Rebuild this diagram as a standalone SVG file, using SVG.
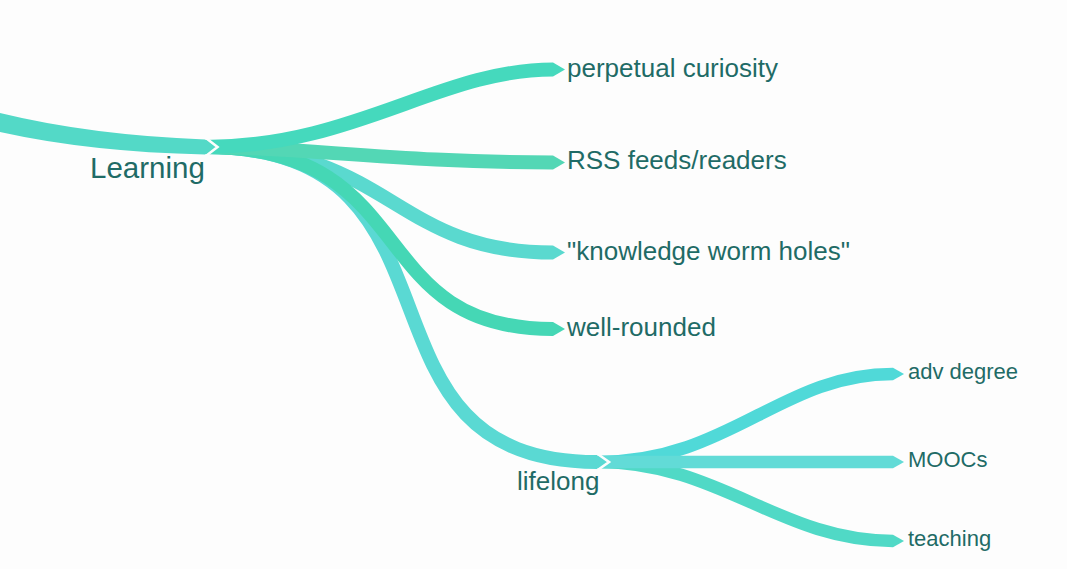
<svg xmlns="http://www.w3.org/2000/svg" width="1067" height="569" viewBox="0 0 1067 569">
<style>
.b{fill:none;stroke-linecap:butt}
.l2{stroke-width:14}
.l3{stroke-width:12.5}
.cut{fill:none;stroke:#fdfdfd;stroke-width:2.6;stroke-linejoin:miter}
text{font-family:"Liberation Sans",Arial,Helvetica,sans-serif;fill:#1f6b66}
.t1{font-size:29.5px}
.t2{font-size:26px}
.t3{font-size:22px}
</style>
<rect width="1067" height="569" fill="#fdfdfd"/>
<g id="connectors">
  <!-- lifelong children -->
  <g id="c-adv">
    <path class="b l3" stroke="#50d9d8" d="M598,462 C730,462 780,374 893,374"/>
    <polygon fill="#50d9d8" points="893,367.8 904,374 893,380.2"/>
  </g>
  <g id="c-teaching">
    <path class="b l3" stroke="#50d9c6" d="M598,462 C720,462 780,541 893,541"/>
    <polygon fill="#50d9c6" points="893,534.8 904,541 893,547.2"/>
  </g>
  <g id="c-moocs">
    <path class="b l3" stroke="#62dbd7" d="M598,462 L893,462"/>
    <polygon fill="#62dbd7" points="893,455.8 904,462 893,468.2"/>
  </g>
  <!-- Learning children -->
  <g id="c-lifelong">
    <path class="b l2" stroke="#5ad9d3" d="M205,147 C487,147 334,462 597,462"/>
    <polygon fill="#5ad9d3" points="597,455.3 607,462 597,468.7"/>
  </g>
  <g id="c-knowledge">
    <path class="b l2" stroke="#5ad9cf" d="M205,147 C392,147 392,252.5 553,252.5"/>
    <polygon fill="#5ad9cf" points="553,245.5 565,252.5 553,259.5"/>
  </g>
  <g id="c-wellrounded">
    <path class="b l2" stroke="#45d7b5" d="M205,147 C425,147 360,329 553,329"/>
    <polygon fill="#45d7b5" points="553,322 565,329 553,336"/>
  </g>
  <g id="c-rss">
    <path class="b l2" stroke="#53d7b5" d="M205,147 C300,147 400,162.5 553,162.5"/>
    <polygon fill="#53d7b5" points="553,155.5 565,162.5 553,169.5"/>
  </g>
  <g id="c-perpetual">
    <path class="b l2" stroke="#45d9bd" d="M205,147 C355,147 440,69.5 553,69.5"/>
    <polygon fill="#45d9bd" points="553,62.5 565,69.5 553,76.5"/>
  </g>
  <!-- root stub -->
  <g id="c-root">
    <path fill="#53d9c7" d="M0,113 Q90,135 205,139.5 L215,147 L205,154.5 Q90,152 0,132 Z"/>
  </g>
  <polyline class="cut" points="206.5,138.5 217.5,147 206.5,155.5"/>
  <polyline class="cut" points="598.5,454.5 609,462 598.5,469.5"/>
</g>
<g id="node-learning"><text class="t1" x="90" y="178">Learning</text></g>
<g id="node-perpetual"><text class="t2" x="567" y="77">perpetual curiosity</text></g>
<g id="node-rss"><text class="t2" x="567" y="169">RSS feeds/readers</text></g>
<g id="node-knowledge"><text class="t2" x="567" y="260">"knowledge worm holes"</text></g>
<g id="node-wellrounded"><text class="t2" x="567" y="335.5">well-rounded</text></g>
<g id="node-lifelong"><text class="t2" x="517" y="489.5">lifelong</text></g>
<g id="node-adv"><text class="t3" x="908" y="378.5">adv degree</text></g>
<g id="node-moocs"><text class="t3" x="908" y="467">MOOCs</text></g>
<g id="node-teaching"><text class="t3" x="908" y="546">teaching</text></g>
</svg>
